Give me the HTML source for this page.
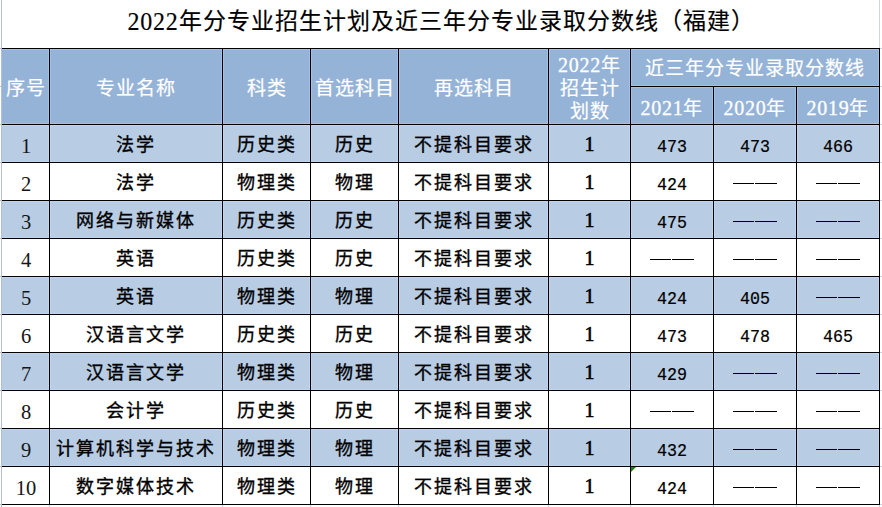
<!DOCTYPE html>
<html lang="zh-CN"><head><meta charset="utf-8"><title>2022年分专业招生计划</title>
<style>
html,body{margin:0;padding:0;}
body{width:882px;height:507px;overflow:hidden;background:#fff;position:relative;font-family:"Liberation Serif",serif;color:#000;}
.f{position:absolute;}
.h{position:absolute;height:1px;background:#000;}
.v{position:absolute;width:1px;background:#000;}
.g{position:absolute;}
.c{position:absolute;display:flex;align-items:center;justify-content:center;white-space:nowrap;font-size:20px;line-height:23px;box-sizing:border-box;}
.hd{color:#fff;font-weight:400;-webkit-text-stroke:0.2px #fff;transform:translateY(2px);}
.hcj{font-size:19px;letter-spacing:1px;}
.hd .n{-webkit-text-stroke:0.3px #fff;font-weight:normal;}
.cj{font-size:18px;letter-spacing:2px;padding-left:0;}
.dg0{font-size:20.5px;color:#151515;transform:translate(0.5px,3px);}
.dt{transform:translateY(1.5px);-webkit-text-stroke:0.35px #000;}
.b1{-webkit-text-stroke:0.6px #000;transform:translateY(1px);}
.sc{font-family:"Liberation Mono",monospace;-webkit-text-stroke:0.2px #000;font-size:16.67px;transform:translateY(3.5px) scaleY(1.06);}
.dash{position:absolute;height:1px;width:20px;background:#000;}
.title{position:absolute;left:2px;width:877px;top:-5px;height:48px;display:flex;align-items:center;justify-content:center;font-size:23px;letter-spacing:1px;padding-left:1px;box-sizing:border-box;white-space:nowrap;-webkit-text-stroke:0.15px #000;}
.tri{position:absolute;width:0;height:0;border-top:5px solid #0a8a0a;border-right:5px solid transparent;}
</style></head><body>

<div class="g" style="left:1px;top:0;width:1px;height:507px;background:#b4bed1"></div>
<div class="g" style="left:879px;top:0;width:1px;height:48px;background:#cdd4e2"></div>
<div class="g" style="left:879px;top:505px;width:1px;height:2px;background:#cdd4e2"></div>
<div class="g" style="left:0;top:48px;width:1px;height:1px;background:#b4bed1"></div>
<div class="g" style="left:880px;top:48px;width:2px;height:1px;background:#cdd4e2"></div>
<div class="g" style="left:880px;top:504px;width:2px;height:1px;background:#cdd4e2"></div>
<div class="g" style="left:0;top:48px;width:1px;height:1px;background:#b4bed1"></div>
<div class="g" style="left:880px;top:48px;width:2px;height:1px;background:#cdd4e2"></div>
<div class="g" style="left:0;top:86px;width:1px;height:1px;background:#b4bed1"></div>
<div class="g" style="left:880px;top:86px;width:2px;height:1px;background:#cdd4e2"></div>
<div class="g" style="left:0;top:124px;width:1px;height:1px;background:#b4bed1"></div>
<div class="g" style="left:880px;top:124px;width:2px;height:1px;background:#cdd4e2"></div>
<div class="g" style="left:0;top:162px;width:1px;height:1px;background:#b4bed1"></div>
<div class="g" style="left:880px;top:162px;width:2px;height:1px;background:#cdd4e2"></div>
<div class="g" style="left:0;top:200px;width:1px;height:1px;background:#b4bed1"></div>
<div class="g" style="left:880px;top:200px;width:2px;height:1px;background:#cdd4e2"></div>
<div class="g" style="left:0;top:238px;width:1px;height:1px;background:#b4bed1"></div>
<div class="g" style="left:880px;top:238px;width:2px;height:1px;background:#cdd4e2"></div>
<div class="g" style="left:0;top:276px;width:1px;height:1px;background:#b4bed1"></div>
<div class="g" style="left:880px;top:276px;width:2px;height:1px;background:#cdd4e2"></div>
<div class="g" style="left:0;top:314px;width:1px;height:1px;background:#b4bed1"></div>
<div class="g" style="left:880px;top:314px;width:2px;height:1px;background:#cdd4e2"></div>
<div class="g" style="left:0;top:352px;width:1px;height:1px;background:#b4bed1"></div>
<div class="g" style="left:880px;top:352px;width:2px;height:1px;background:#cdd4e2"></div>
<div class="g" style="left:0;top:390px;width:1px;height:1px;background:#b4bed1"></div>
<div class="g" style="left:880px;top:390px;width:2px;height:1px;background:#cdd4e2"></div>
<div class="g" style="left:0;top:428px;width:1px;height:1px;background:#b4bed1"></div>
<div class="g" style="left:880px;top:428px;width:2px;height:1px;background:#cdd4e2"></div>
<div class="g" style="left:0;top:466px;width:1px;height:1px;background:#b4bed1"></div>
<div class="g" style="left:880px;top:466px;width:2px;height:1px;background:#cdd4e2"></div>
<div class="g" style="left:0;top:504px;width:1px;height:1px;background:#b4bed1"></div>
<div class="g" style="left:880px;top:504px;width:2px;height:1px;background:#cdd4e2"></div>
<div class="g" style="left:49px;top:505px;width:1px;height:2px;background:#c8d0e0"></div>
<div class="g" style="left:222px;top:505px;width:1px;height:2px;background:#c8d0e0"></div>
<div class="g" style="left:310px;top:505px;width:1px;height:2px;background:#c8d0e0"></div>
<div class="g" style="left:398px;top:505px;width:1px;height:2px;background:#c8d0e0"></div>
<div class="g" style="left:548px;top:505px;width:1px;height:2px;background:#c8d0e0"></div>
<div class="g" style="left:630px;top:505px;width:1px;height:2px;background:#c8d0e0"></div>
<div class="g" style="left:713px;top:505px;width:1px;height:2px;background:#c8d0e0"></div>
<div class="g" style="left:796px;top:505px;width:1px;height:2px;background:#c8d0e0"></div>
<div class="f" style="left:2px;top:49px;width:877px;height:75px;background:#95b3d7"></div>
<div class="f" style="left:2px;top:125px;width:877px;height:37px;background:#b8cce4"></div>
<div class="f" style="left:2px;top:201px;width:877px;height:37px;background:#b8cce4"></div>
<div class="f" style="left:2px;top:277px;width:877px;height:37px;background:#b8cce4"></div>
<div class="f" style="left:2px;top:353px;width:877px;height:37px;background:#b8cce4"></div>
<div class="f" style="left:2px;top:429px;width:877px;height:37px;background:#b8cce4"></div>
<div class="f" style="left:2px;top:49px;width:877px;height:1px;background:#a4c1e5"></div>
<div class="f" style="left:2px;top:123px;width:877px;height:1px;background:#a4c1e5"></div>
<div class="f" style="left:631px;top:85px;width:248px;height:1px;background:#a4c1e5"></div>
<div class="f" style="left:631px;top:87px;width:248px;height:1px;background:#a4c1e5"></div>
<div class="f" style="left:48px;top:49px;width:1px;height:75px;background:#a4c1e5"></div>
<div class="f" style="left:50px;top:49px;width:1px;height:75px;background:#a4c1e5"></div>
<div class="f" style="left:221px;top:49px;width:1px;height:75px;background:#a4c1e5"></div>
<div class="f" style="left:223px;top:49px;width:1px;height:75px;background:#a4c1e5"></div>
<div class="f" style="left:309px;top:49px;width:1px;height:75px;background:#a4c1e5"></div>
<div class="f" style="left:311px;top:49px;width:1px;height:75px;background:#a4c1e5"></div>
<div class="f" style="left:397px;top:49px;width:1px;height:75px;background:#a4c1e5"></div>
<div class="f" style="left:399px;top:49px;width:1px;height:75px;background:#a4c1e5"></div>
<div class="f" style="left:547px;top:49px;width:1px;height:75px;background:#a4c1e5"></div>
<div class="f" style="left:549px;top:49px;width:1px;height:75px;background:#a4c1e5"></div>
<div class="f" style="left:629px;top:49px;width:1px;height:75px;background:#a4c1e5"></div>
<div class="f" style="left:631px;top:49px;width:1px;height:75px;background:#a4c1e5"></div>
<div class="f" style="left:712px;top:87px;width:1px;height:37px;background:#a4c1e5"></div>
<div class="f" style="left:714px;top:87px;width:1px;height:37px;background:#a4c1e5"></div>
<div class="f" style="left:795px;top:87px;width:1px;height:37px;background:#a4c1e5"></div>
<div class="f" style="left:797px;top:87px;width:1px;height:37px;background:#a4c1e5"></div>
<div class="f" style="left:878px;top:49px;width:1px;height:75px;background:#a4c1e5"></div>
<div class="f" style="left:2px;top:125px;width:877px;height:1px;background:#c1d6ee"></div>
<div class="f" style="left:2px;top:161px;width:877px;height:1px;background:#c1d6ee"></div>
<div class="f" style="left:48px;top:125px;width:1px;height:37px;background:#c1d6ee"></div>
<div class="f" style="left:50px;top:125px;width:1px;height:37px;background:#c1d6ee"></div>
<div class="f" style="left:221px;top:125px;width:1px;height:37px;background:#c1d6ee"></div>
<div class="f" style="left:223px;top:125px;width:1px;height:37px;background:#c1d6ee"></div>
<div class="f" style="left:309px;top:125px;width:1px;height:37px;background:#c1d6ee"></div>
<div class="f" style="left:311px;top:125px;width:1px;height:37px;background:#c1d6ee"></div>
<div class="f" style="left:397px;top:125px;width:1px;height:37px;background:#c1d6ee"></div>
<div class="f" style="left:399px;top:125px;width:1px;height:37px;background:#c1d6ee"></div>
<div class="f" style="left:547px;top:125px;width:1px;height:37px;background:#c1d6ee"></div>
<div class="f" style="left:549px;top:125px;width:1px;height:37px;background:#c1d6ee"></div>
<div class="f" style="left:629px;top:125px;width:1px;height:37px;background:#c1d6ee"></div>
<div class="f" style="left:631px;top:125px;width:1px;height:37px;background:#c1d6ee"></div>
<div class="f" style="left:712px;top:125px;width:1px;height:37px;background:#c1d6ee"></div>
<div class="f" style="left:714px;top:125px;width:1px;height:37px;background:#c1d6ee"></div>
<div class="f" style="left:795px;top:125px;width:1px;height:37px;background:#c1d6ee"></div>
<div class="f" style="left:797px;top:125px;width:1px;height:37px;background:#c1d6ee"></div>
<div class="f" style="left:878px;top:125px;width:1px;height:37px;background:#c1d6ee"></div>
<div class="f" style="left:2px;top:201px;width:877px;height:1px;background:#c1d6ee"></div>
<div class="f" style="left:2px;top:237px;width:877px;height:1px;background:#c1d6ee"></div>
<div class="f" style="left:48px;top:201px;width:1px;height:37px;background:#c1d6ee"></div>
<div class="f" style="left:50px;top:201px;width:1px;height:37px;background:#c1d6ee"></div>
<div class="f" style="left:221px;top:201px;width:1px;height:37px;background:#c1d6ee"></div>
<div class="f" style="left:223px;top:201px;width:1px;height:37px;background:#c1d6ee"></div>
<div class="f" style="left:309px;top:201px;width:1px;height:37px;background:#c1d6ee"></div>
<div class="f" style="left:311px;top:201px;width:1px;height:37px;background:#c1d6ee"></div>
<div class="f" style="left:397px;top:201px;width:1px;height:37px;background:#c1d6ee"></div>
<div class="f" style="left:399px;top:201px;width:1px;height:37px;background:#c1d6ee"></div>
<div class="f" style="left:547px;top:201px;width:1px;height:37px;background:#c1d6ee"></div>
<div class="f" style="left:549px;top:201px;width:1px;height:37px;background:#c1d6ee"></div>
<div class="f" style="left:629px;top:201px;width:1px;height:37px;background:#c1d6ee"></div>
<div class="f" style="left:631px;top:201px;width:1px;height:37px;background:#c1d6ee"></div>
<div class="f" style="left:712px;top:201px;width:1px;height:37px;background:#c1d6ee"></div>
<div class="f" style="left:714px;top:201px;width:1px;height:37px;background:#c1d6ee"></div>
<div class="f" style="left:795px;top:201px;width:1px;height:37px;background:#c1d6ee"></div>
<div class="f" style="left:797px;top:201px;width:1px;height:37px;background:#c1d6ee"></div>
<div class="f" style="left:878px;top:201px;width:1px;height:37px;background:#c1d6ee"></div>
<div class="f" style="left:2px;top:277px;width:877px;height:1px;background:#c1d6ee"></div>
<div class="f" style="left:2px;top:313px;width:877px;height:1px;background:#c1d6ee"></div>
<div class="f" style="left:48px;top:277px;width:1px;height:37px;background:#c1d6ee"></div>
<div class="f" style="left:50px;top:277px;width:1px;height:37px;background:#c1d6ee"></div>
<div class="f" style="left:221px;top:277px;width:1px;height:37px;background:#c1d6ee"></div>
<div class="f" style="left:223px;top:277px;width:1px;height:37px;background:#c1d6ee"></div>
<div class="f" style="left:309px;top:277px;width:1px;height:37px;background:#c1d6ee"></div>
<div class="f" style="left:311px;top:277px;width:1px;height:37px;background:#c1d6ee"></div>
<div class="f" style="left:397px;top:277px;width:1px;height:37px;background:#c1d6ee"></div>
<div class="f" style="left:399px;top:277px;width:1px;height:37px;background:#c1d6ee"></div>
<div class="f" style="left:547px;top:277px;width:1px;height:37px;background:#c1d6ee"></div>
<div class="f" style="left:549px;top:277px;width:1px;height:37px;background:#c1d6ee"></div>
<div class="f" style="left:629px;top:277px;width:1px;height:37px;background:#c1d6ee"></div>
<div class="f" style="left:631px;top:277px;width:1px;height:37px;background:#c1d6ee"></div>
<div class="f" style="left:712px;top:277px;width:1px;height:37px;background:#c1d6ee"></div>
<div class="f" style="left:714px;top:277px;width:1px;height:37px;background:#c1d6ee"></div>
<div class="f" style="left:795px;top:277px;width:1px;height:37px;background:#c1d6ee"></div>
<div class="f" style="left:797px;top:277px;width:1px;height:37px;background:#c1d6ee"></div>
<div class="f" style="left:878px;top:277px;width:1px;height:37px;background:#c1d6ee"></div>
<div class="f" style="left:2px;top:353px;width:877px;height:1px;background:#c1d6ee"></div>
<div class="f" style="left:2px;top:389px;width:877px;height:1px;background:#c1d6ee"></div>
<div class="f" style="left:48px;top:353px;width:1px;height:37px;background:#c1d6ee"></div>
<div class="f" style="left:50px;top:353px;width:1px;height:37px;background:#c1d6ee"></div>
<div class="f" style="left:221px;top:353px;width:1px;height:37px;background:#c1d6ee"></div>
<div class="f" style="left:223px;top:353px;width:1px;height:37px;background:#c1d6ee"></div>
<div class="f" style="left:309px;top:353px;width:1px;height:37px;background:#c1d6ee"></div>
<div class="f" style="left:311px;top:353px;width:1px;height:37px;background:#c1d6ee"></div>
<div class="f" style="left:397px;top:353px;width:1px;height:37px;background:#c1d6ee"></div>
<div class="f" style="left:399px;top:353px;width:1px;height:37px;background:#c1d6ee"></div>
<div class="f" style="left:547px;top:353px;width:1px;height:37px;background:#c1d6ee"></div>
<div class="f" style="left:549px;top:353px;width:1px;height:37px;background:#c1d6ee"></div>
<div class="f" style="left:629px;top:353px;width:1px;height:37px;background:#c1d6ee"></div>
<div class="f" style="left:631px;top:353px;width:1px;height:37px;background:#c1d6ee"></div>
<div class="f" style="left:712px;top:353px;width:1px;height:37px;background:#c1d6ee"></div>
<div class="f" style="left:714px;top:353px;width:1px;height:37px;background:#c1d6ee"></div>
<div class="f" style="left:795px;top:353px;width:1px;height:37px;background:#c1d6ee"></div>
<div class="f" style="left:797px;top:353px;width:1px;height:37px;background:#c1d6ee"></div>
<div class="f" style="left:878px;top:353px;width:1px;height:37px;background:#c1d6ee"></div>
<div class="f" style="left:2px;top:429px;width:877px;height:1px;background:#c1d6ee"></div>
<div class="f" style="left:2px;top:465px;width:877px;height:1px;background:#c1d6ee"></div>
<div class="f" style="left:48px;top:429px;width:1px;height:37px;background:#c1d6ee"></div>
<div class="f" style="left:50px;top:429px;width:1px;height:37px;background:#c1d6ee"></div>
<div class="f" style="left:221px;top:429px;width:1px;height:37px;background:#c1d6ee"></div>
<div class="f" style="left:223px;top:429px;width:1px;height:37px;background:#c1d6ee"></div>
<div class="f" style="left:309px;top:429px;width:1px;height:37px;background:#c1d6ee"></div>
<div class="f" style="left:311px;top:429px;width:1px;height:37px;background:#c1d6ee"></div>
<div class="f" style="left:397px;top:429px;width:1px;height:37px;background:#c1d6ee"></div>
<div class="f" style="left:399px;top:429px;width:1px;height:37px;background:#c1d6ee"></div>
<div class="f" style="left:547px;top:429px;width:1px;height:37px;background:#c1d6ee"></div>
<div class="f" style="left:549px;top:429px;width:1px;height:37px;background:#c1d6ee"></div>
<div class="f" style="left:629px;top:429px;width:1px;height:37px;background:#c1d6ee"></div>
<div class="f" style="left:631px;top:429px;width:1px;height:37px;background:#c1d6ee"></div>
<div class="f" style="left:712px;top:429px;width:1px;height:37px;background:#c1d6ee"></div>
<div class="f" style="left:714px;top:429px;width:1px;height:37px;background:#c1d6ee"></div>
<div class="f" style="left:795px;top:429px;width:1px;height:37px;background:#c1d6ee"></div>
<div class="f" style="left:797px;top:429px;width:1px;height:37px;background:#c1d6ee"></div>
<div class="f" style="left:878px;top:429px;width:1px;height:37px;background:#c1d6ee"></div>
<div class="title"><span style="font-size:24px;letter-spacing:0.75px;display:inline-block;transform:translateY(2px) scaleY(1.07)">2022</span>年分专业招生计划及近三年分专业录取分数线（福建）</div>
<div class="h" style="left:2px;top:48px;width:878px"></div>
<div class="h" style="left:630px;top:86px;width:250px"></div>
<div class="h" style="left:2px;top:124px;width:878px"></div>
<div class="h" style="left:2px;top:162px;width:878px"></div>
<div class="h" style="left:2px;top:200px;width:878px"></div>
<div class="h" style="left:2px;top:238px;width:878px"></div>
<div class="h" style="left:2px;top:276px;width:878px"></div>
<div class="h" style="left:2px;top:314px;width:878px"></div>
<div class="h" style="left:2px;top:352px;width:878px"></div>
<div class="h" style="left:2px;top:390px;width:878px"></div>
<div class="h" style="left:2px;top:428px;width:878px"></div>
<div class="h" style="left:2px;top:466px;width:878px"></div>
<div class="h" style="left:2px;top:504px;width:878px"></div>
<div class="v" style="left:49px;top:48px;height:457px"></div>
<div class="v" style="left:222px;top:48px;height:457px"></div>
<div class="v" style="left:310px;top:48px;height:457px"></div>
<div class="v" style="left:398px;top:48px;height:457px"></div>
<div class="v" style="left:548px;top:48px;height:457px"></div>
<div class="v" style="left:630px;top:48px;height:457px"></div>
<div class="v" style="left:713px;top:86px;height:419px"></div>
<div class="v" style="left:796px;top:86px;height:419px"></div>
<div class="v" style="left:879px;top:48px;height:457px"></div>
<div class="c hd hcj" style="left:2px;width:47px;top:49px;height:75px;">序号</div>
<div class="c hd hcj" style="left:50px;width:172px;top:49px;height:75px;">专业名称</div>
<div class="c hd hcj" style="left:223px;width:87px;top:49px;height:75px;">科类</div>
<div class="c hd hcj" style="left:311px;width:87px;top:49px;height:75px;">首选科目</div>
<div class="c hd hcj" style="left:399px;width:149px;top:49px;height:75px;">再选科目</div>
<div class="c hd hcj" style="left:549px;width:81px;top:49px;height:75px;line-height:23px;transform:translateY(2px)"><div style="text-align:center"><span class="n" style="font-size:20px;letter-spacing:0.7px">2022</span>年<br>招生计<br>划数</div></div>
<div class="c hd hcj" style="left:631px;width:248px;top:49px;height:37px;transform:translateY(1px)">近三年分专业录取分数线</div>
<div class="c hd hcj" style="left:631px;width:82px;top:87px;height:37px;transform:translateY(2.5px)"><span class="n" style="font-size:20px;letter-spacing:0.7px">2021</span>年</div>
<div class="c hd hcj" style="left:714px;width:82px;top:87px;height:37px;transform:translateY(2.5px)"><span class="n" style="font-size:20px;letter-spacing:0.7px">2020</span>年</div>
<div class="c hd hcj" style="left:797px;width:82px;top:87px;height:37px;transform:translateY(2.5px)"><span class="n" style="font-size:20px;letter-spacing:0.7px">2019</span>年</div>
<div class="c dg0" style="left:2px;width:47px;top:125px;height:37px;">1</div>
<div class="c dt cj" style="left:50px;width:172px;top:125px;height:37px;">法学</div>
<div class="c dt cj" style="left:223px;width:87px;top:125px;height:37px;">历史类</div>
<div class="c dt cj" style="left:311px;width:87px;top:125px;height:37px;">历史</div>
<div class="c dt cj" style="left:399px;width:149px;top:125px;height:37px;">不提科目要求</div>
<div class="c b1" style="left:549px;width:81px;top:125px;height:37px;">1</div>
<div class="c sc" style="left:631px;width:82px;top:125px;height:37px;">473</div>
<div class="c sc" style="left:714px;width:82px;top:125px;height:37px;">473</div>
<div class="c sc" style="left:797px;width:82px;top:125px;height:37px;">466</div>
<div class="c dg0" style="left:2px;width:47px;top:163px;height:37px;">2</div>
<div class="c dt cj" style="left:50px;width:172px;top:163px;height:37px;">法学</div>
<div class="c dt cj" style="left:223px;width:87px;top:163px;height:37px;">物理类</div>
<div class="c dt cj" style="left:311px;width:87px;top:163px;height:37px;">物理</div>
<div class="c dt cj" style="left:399px;width:149px;top:163px;height:37px;">不提科目要求</div>
<div class="c b1" style="left:549px;width:81px;top:163px;height:37px;">1</div>
<div class="c sc" style="left:631px;width:82px;top:163px;height:37px;">424</div>
<div class="dash" style="left:733px;width:21px;top:183px"></div><div class="dash" style="left:755px;width:22px;top:183px"></div>
<div class="dash" style="left:816px;width:21px;top:183px"></div><div class="dash" style="left:838px;width:22px;top:183px"></div>
<div class="c dg0" style="left:2px;width:47px;top:201px;height:37px;">3</div>
<div class="c dt cj" style="left:50px;width:172px;top:201px;height:37px;">网络与新媒体</div>
<div class="c dt cj" style="left:223px;width:87px;top:201px;height:37px;">历史类</div>
<div class="c dt cj" style="left:311px;width:87px;top:201px;height:37px;">历史</div>
<div class="c dt cj" style="left:399px;width:149px;top:201px;height:37px;">不提科目要求</div>
<div class="c b1" style="left:549px;width:81px;top:201px;height:37px;">1</div>
<div class="c sc" style="left:631px;width:82px;top:201px;height:37px;">475</div>
<div class="dash" style="left:733px;width:21px;top:221px"></div><div class="dash" style="left:755px;width:22px;top:221px"></div>
<div class="dash" style="left:816px;width:21px;top:221px"></div><div class="dash" style="left:838px;width:22px;top:221px"></div>
<div class="c dg0" style="left:2px;width:47px;top:239px;height:37px;">4</div>
<div class="c dt cj" style="left:50px;width:172px;top:239px;height:37px;">英语</div>
<div class="c dt cj" style="left:223px;width:87px;top:239px;height:37px;">历史类</div>
<div class="c dt cj" style="left:311px;width:87px;top:239px;height:37px;">历史</div>
<div class="c dt cj" style="left:399px;width:149px;top:239px;height:37px;">不提科目要求</div>
<div class="c b1" style="left:549px;width:81px;top:239px;height:37px;">1</div>
<div class="dash" style="left:650px;width:21px;top:259px"></div><div class="dash" style="left:672px;width:22px;top:259px"></div>
<div class="dash" style="left:733px;width:21px;top:259px"></div><div class="dash" style="left:755px;width:22px;top:259px"></div>
<div class="dash" style="left:816px;width:21px;top:259px"></div><div class="dash" style="left:838px;width:22px;top:259px"></div>
<div class="c dg0" style="left:2px;width:47px;top:277px;height:37px;">5</div>
<div class="c dt cj" style="left:50px;width:172px;top:277px;height:37px;">英语</div>
<div class="c dt cj" style="left:223px;width:87px;top:277px;height:37px;">物理类</div>
<div class="c dt cj" style="left:311px;width:87px;top:277px;height:37px;">物理</div>
<div class="c dt cj" style="left:399px;width:149px;top:277px;height:37px;">不提科目要求</div>
<div class="c b1" style="left:549px;width:81px;top:277px;height:37px;">1</div>
<div class="c sc" style="left:631px;width:82px;top:277px;height:37px;">424</div>
<div class="c sc" style="left:714px;width:82px;top:277px;height:37px;">405</div>
<div class="dash" style="left:816px;width:21px;top:297px"></div><div class="dash" style="left:838px;width:22px;top:297px"></div>
<div class="c dg0" style="left:2px;width:47px;top:315px;height:37px;">6</div>
<div class="c dt cj" style="left:50px;width:172px;top:315px;height:37px;">汉语言文学</div>
<div class="c dt cj" style="left:223px;width:87px;top:315px;height:37px;">历史类</div>
<div class="c dt cj" style="left:311px;width:87px;top:315px;height:37px;">历史</div>
<div class="c dt cj" style="left:399px;width:149px;top:315px;height:37px;">不提科目要求</div>
<div class="c b1" style="left:549px;width:81px;top:315px;height:37px;">1</div>
<div class="c sc" style="left:631px;width:82px;top:315px;height:37px;">473</div>
<div class="c sc" style="left:714px;width:82px;top:315px;height:37px;">478</div>
<div class="c sc" style="left:797px;width:82px;top:315px;height:37px;">465</div>
<div class="c dg0" style="left:2px;width:47px;top:353px;height:37px;">7</div>
<div class="c dt cj" style="left:50px;width:172px;top:353px;height:37px;">汉语言文学</div>
<div class="c dt cj" style="left:223px;width:87px;top:353px;height:37px;">物理类</div>
<div class="c dt cj" style="left:311px;width:87px;top:353px;height:37px;">物理</div>
<div class="c dt cj" style="left:399px;width:149px;top:353px;height:37px;">不提科目要求</div>
<div class="c b1" style="left:549px;width:81px;top:353px;height:37px;">1</div>
<div class="c sc" style="left:631px;width:82px;top:353px;height:37px;">429</div>
<div class="dash" style="left:733px;width:21px;top:373px"></div><div class="dash" style="left:755px;width:22px;top:373px"></div>
<div class="dash" style="left:816px;width:21px;top:373px"></div><div class="dash" style="left:838px;width:22px;top:373px"></div>
<div class="c dg0" style="left:2px;width:47px;top:391px;height:37px;">8</div>
<div class="c dt cj" style="left:50px;width:172px;top:391px;height:37px;">会计学</div>
<div class="c dt cj" style="left:223px;width:87px;top:391px;height:37px;">历史类</div>
<div class="c dt cj" style="left:311px;width:87px;top:391px;height:37px;">历史</div>
<div class="c dt cj" style="left:399px;width:149px;top:391px;height:37px;">不提科目要求</div>
<div class="c b1" style="left:549px;width:81px;top:391px;height:37px;">1</div>
<div class="dash" style="left:650px;width:21px;top:411px"></div><div class="dash" style="left:672px;width:22px;top:411px"></div>
<div class="dash" style="left:733px;width:21px;top:411px"></div><div class="dash" style="left:755px;width:22px;top:411px"></div>
<div class="dash" style="left:816px;width:21px;top:411px"></div><div class="dash" style="left:838px;width:22px;top:411px"></div>
<div class="c dg0" style="left:2px;width:47px;top:429px;height:37px;">9</div>
<div class="c dt cj" style="left:50px;width:172px;top:429px;height:37px;">计算机科学与技术</div>
<div class="c dt cj" style="left:223px;width:87px;top:429px;height:37px;">物理类</div>
<div class="c dt cj" style="left:311px;width:87px;top:429px;height:37px;">物理</div>
<div class="c dt cj" style="left:399px;width:149px;top:429px;height:37px;">不提科目要求</div>
<div class="c b1" style="left:549px;width:81px;top:429px;height:37px;">1</div>
<div class="c sc" style="left:631px;width:82px;top:429px;height:37px;">432</div>
<div class="dash" style="left:733px;width:21px;top:449px"></div><div class="dash" style="left:755px;width:22px;top:449px"></div>
<div class="dash" style="left:816px;width:21px;top:449px"></div><div class="dash" style="left:838px;width:22px;top:449px"></div>
<div class="c dg0" style="left:2px;width:47px;top:467px;height:37px;">10</div>
<div class="c dt cj" style="left:50px;width:172px;top:467px;height:37px;">数字媒体技术</div>
<div class="c dt cj" style="left:223px;width:87px;top:467px;height:37px;">物理类</div>
<div class="c dt cj" style="left:311px;width:87px;top:467px;height:37px;">物理</div>
<div class="c dt cj" style="left:399px;width:149px;top:467px;height:37px;">不提科目要求</div>
<div class="c b1" style="left:549px;width:81px;top:467px;height:37px;">1</div>
<div class="c sc" style="left:631px;width:82px;top:467px;height:37px;">424</div>
<div class="dash" style="left:733px;width:21px;top:487px"></div><div class="dash" style="left:755px;width:22px;top:487px"></div>
<div class="dash" style="left:816px;width:21px;top:487px"></div><div class="dash" style="left:838px;width:22px;top:487px"></div>
<div class="tri" style="left:631px;top:467px"></div>
</body></html>
